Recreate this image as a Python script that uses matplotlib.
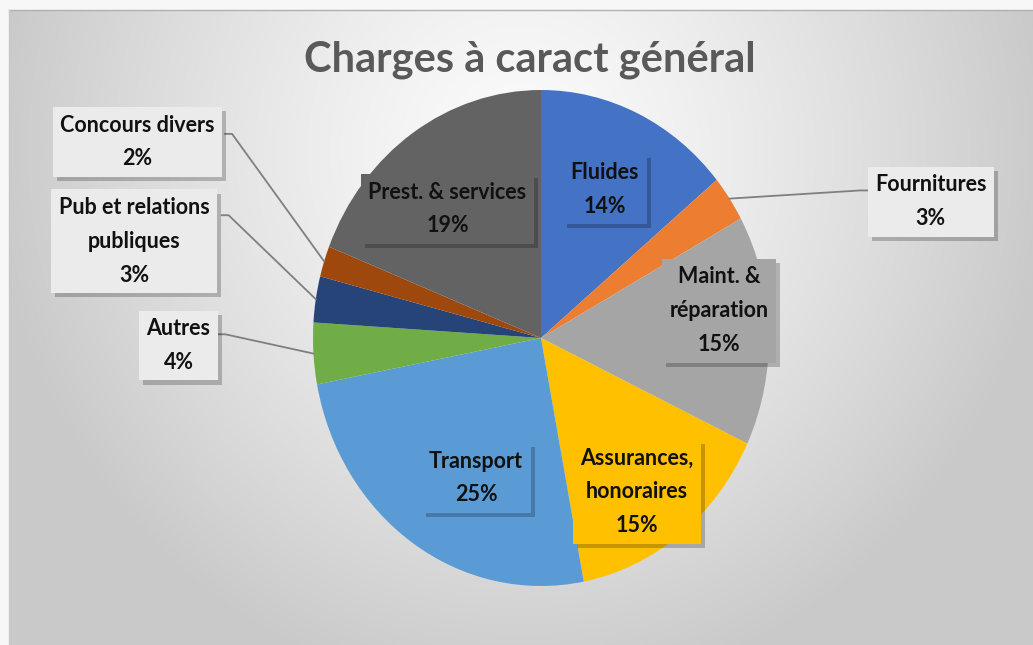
import numpy as np
import matplotlib
matplotlib.use('Agg')
import matplotlib.pyplot as plt
from matplotlib import patheffects

# data
labels = ['Fluides', 'Fournitures', 'Maint. &\nréparation', 'Assurances,\nhonoraires', 'Transport',
          'Autres', 'Pub et relations\npubliques', 'Concours divers', 'Prest. & services']
values = [14, 3, 15, 15, 25, 4, 3, 2, 19]
colors = ['#4472C4', '#ED7D31', '#A5A5A5', '#FFC000', '#5B9BD5',
          '#70AD47', '#264478', '#9E480E', '#636363']
title = 'Charges à caract général'

# label placement (data coords of the pie axes) and leader line starts
label_pos = [(0.28, 0.60), (1.71, 0.55), (0.78, 0.11), (0.42, -0.62), (-0.285, -0.565),
             (-1.59, -0.03), (-1.785, 0.39), (-1.77, 0.79), (-0.41, 0.52)]
outside = {1: (1.43, 0.595), 5: (-1.415, 0.015), 6: (-1.40, 0.495), 7: (-1.385, 0.823)}

W, H = 1033, 645
fig = plt.figure(figsize=(W / 100, H / 100), dpi=100)

# background gradient
bg = fig.add_axes([0, 0, 1, 1])
bg.set_axis_off()
yy, xx = np.mgrid[0:H, 0:W]
r = np.sqrt(((xx - 520) / 540.0) ** 2 + ((yy - 150) / 560.0) ** 2)
g = np.clip(0.985 - 0.2 * r ** 1.3, 0.79, 1)
img = np.dstack([g, g, g])
img[:10, :, :] = 0.97
img[:, :9, :] = 0.97
bg.imshow(img, extent=(0, W, H, 0), aspect='auto', interpolation='bilinear')
bg.plot([9, W], [10, 10], color='#b0b0b0', lw=1)
bg.plot([9, 9], [10, H], color='#c8c8c8', lw=1)
bg.set_xlim(0, W)
bg.set_ylim(H, 0)

cx, cy, rx, ry = 541, 338, 228, 248
ax = fig.add_axes([(cx - rx) / W, (H - cy - ry) / H, 2 * rx / W, 2 * ry / H])
wedges, _ = ax.pie(values, colors=colors, startangle=90, counterclock=False,
                   radius=1, wedgeprops=dict(linewidth=0))
ax.set_aspect('auto')
ax.set_xlim(-1, 1)
ax.set_ylim(-1, 1)
ax.set_axis_off()

total = sum(values)
cum = np.cumsum([0] + values[:-1])
for i, (lab, v) in enumerate(zip(labels, values)):
    fc = '#ebebeb' if i in outside else colors[i]
    x, y = label_pos[i]
    t = ax.text(x, y, f'{lab}\n{v}%', ha='center', va='center', fontsize=15.5,
                fontweight='bold', family='Lato', color='#111111', linespacing=1.75,
                zorder=5, clip_on=False,
                bbox=dict(boxstyle='square,pad=0.35', fc=fc, ec='none'))
    t.get_bbox_patch().set_path_effects([
        patheffects.withSimplePatchShadow(offset=(3, -3), shadow_rgbFace='black', alpha=0.22),
        patheffects.Normal()])
    if i in outside:
        ang = np.deg2rad(90 - 360 * (cum[i] + v / 2) / total)
        px, py = np.cos(ang), np.sin(ang)
        sx, sy = outside[i]
        step = 0.03 if sx < 0 else -0.03
        ax.plot([sx, sx + step, px], [sy, sy, py], color='#7f7f7f', lw=1.3,
                zorder=4, clip_on=False)

fig.text(530 / W, 1 - 60 / H, title, ha='center', va='center', fontsize=30,
         fontweight='bold', family='Lato', color='#595959')

fig.savefig('out.png', dpi=100)
